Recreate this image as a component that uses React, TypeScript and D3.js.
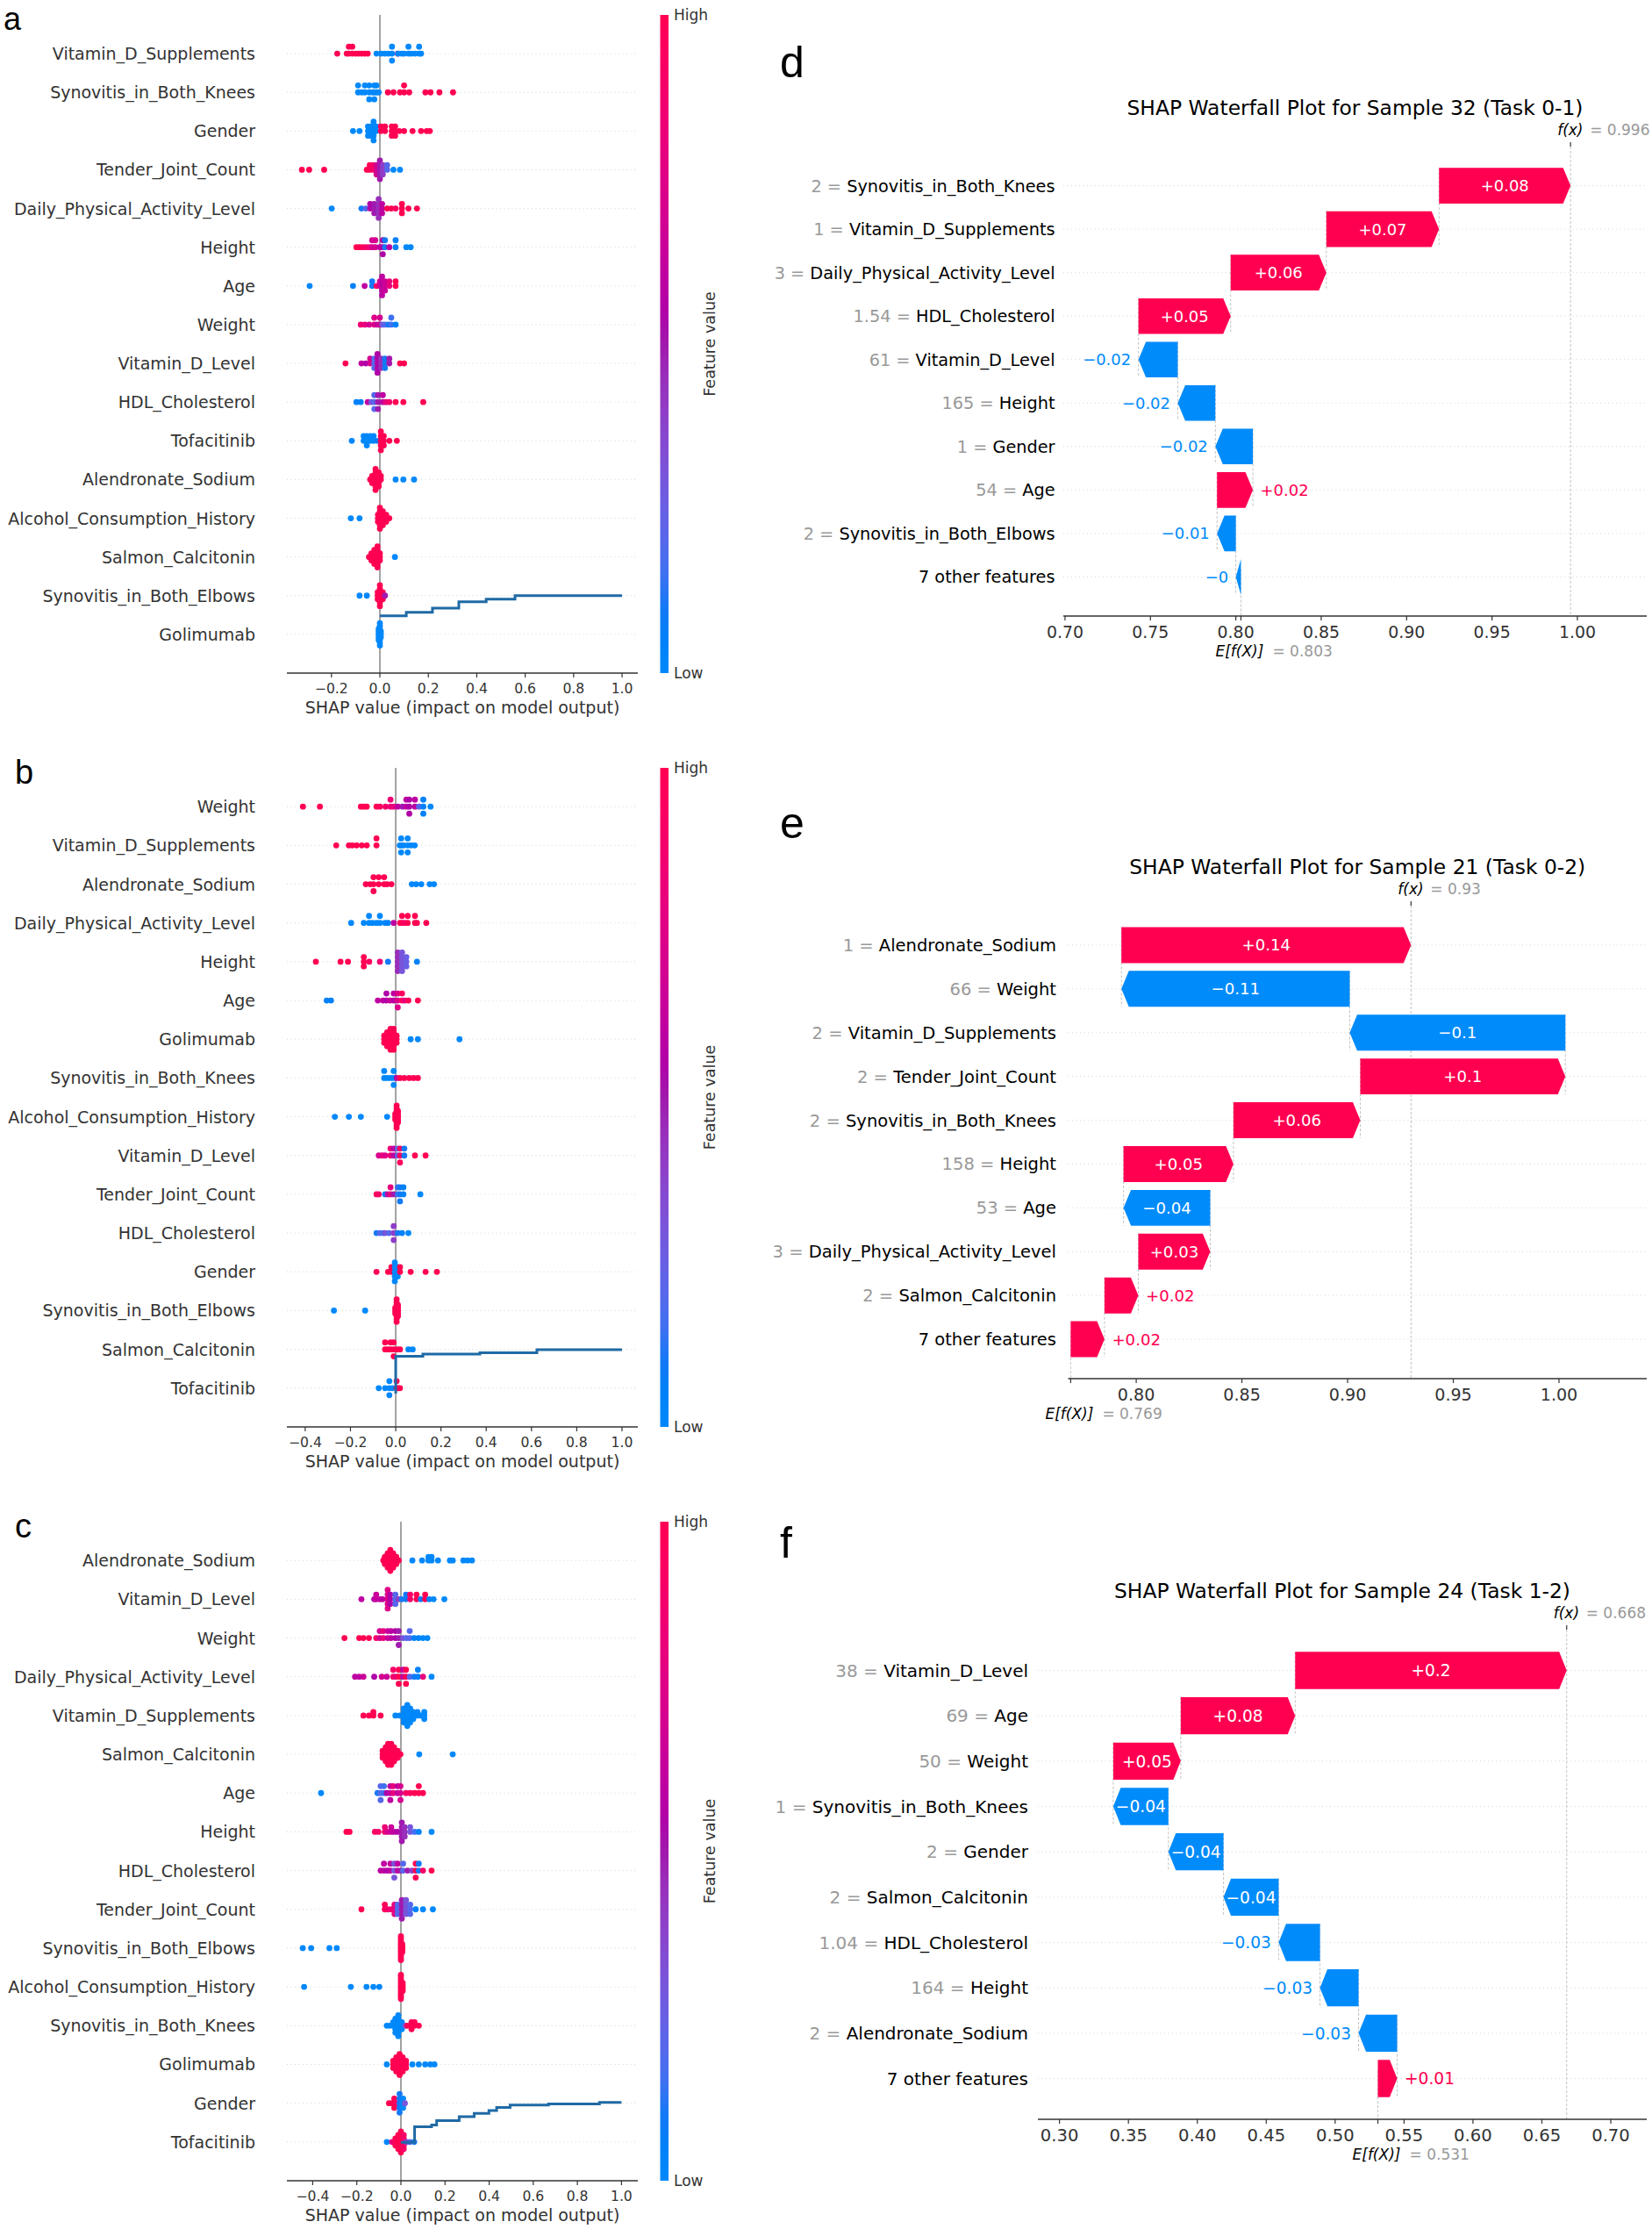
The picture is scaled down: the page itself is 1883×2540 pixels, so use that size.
import React from 'react';
import * as d3 from 'd3';

type Pt = [number, number, number?];

const W = 1883;
const H = 2540;
const FONT = "'DejaVu Sans', sans-serif";
const RED = '#ff0051';
const BLUE = '#008bfb';
const AXIS = '#333333';

// ---------- beeswarm panels (a, b, c) ----------
const featA = ['Vitamin_D_Supplements', 'Synovitis_in_Both_Knees', 'Gender', 'Tender_Joint_Count', 'Daily_Physical_Activity_Level', 'Height', 'Age', 'Weight', 'Vitamin_D_Level', 'HDL_Cholesterol', 'Tofacitinib', 'Alendronate_Sodium', 'Alcohol_Consumption_History', 'Salmon_Calcitonin', 'Synovitis_in_Both_Elbows', 'Golimumab'];
const featB = ['Weight', 'Vitamin_D_Supplements', 'Alendronate_Sodium', 'Daily_Physical_Activity_Level', 'Height', 'Age', 'Golimumab', 'Synovitis_in_Both_Knees', 'Alcohol_Consumption_History', 'Vitamin_D_Level', 'Tender_Joint_Count', 'HDL_Cholesterol', 'Gender', 'Synovitis_in_Both_Elbows', 'Salmon_Calcitonin', 'Tofacitinib'];
const featC = ['Alendronate_Sodium', 'Vitamin_D_Level', 'Weight', 'Daily_Physical_Activity_Level', 'Vitamin_D_Supplements', 'Salmon_Calcitonin', 'Age', 'Height', 'HDL_Cholesterol', 'Tender_Joint_Count', 'Synovitis_in_Both_Elbows', 'Alcohol_Consumption_History', 'Synovitis_in_Both_Knees', 'Golimumab', 'Gender', 'Tofacitinib'];

// [shap value, feature value 0..1, count]
const shapA: Pt[][] = [
  [[-0.176, 1], [-0.137, 1], [-0.128, 1, 2], [-0.114, 1, 2], [-0.1, 1], [-0.088, 1], [-0.075, 1], [-0.062, 1], [-0.05, 1], [0.074, 1],
   [-0.014, 0], [0.005, 0], [0.02, 0], [0.035, 0], [0.05, 0, 3], [0.075, 0], [0.09, 0], [0.1, 0], [0.118, 0, 2], [0.13, 0], [0.145, 0], [0.162, 0, 2], [0.17, 0]],
  [[-0.09, 0, 2], [-0.075, 0], [-0.062, 0, 2], [-0.044, 0, 3], [-0.03, 0], [-0.023, 0, 3], [-0.014, 0, 2], [-0.005, 0],
   [0.033, 1], [0.056, 1], [0.083, 1], [0.1, 1, 2], [0.121, 1], [0.188, 1], [0.209, 1], [0.246, 1], [0.302, 1]],
  [[-0.111, 0], [-0.084, 0], [-0.049, 0, 3], [-0.037, 0, 3], [-0.026, 0, 5], [-0.015, 0, 2],
   [0.004, 1, 2], [0.021, 1, 2], [0.049, 1, 3], [0.063, 1, 3], [0.08, 1], [0.1, 1], [0.135, 1], [0.17, 1], [0.193, 1], [0.206, 1]],
  [[-0.322, 1], [-0.292, 1], [-0.23, 1], [-0.054, 1], [-0.042, 1, 2], [-0.028, 0.9, 2], [-0.014, 0.7, 3], [0.0, 0.5, 5], [0.012, 0.4, 3], [0.03, 0.2, 2], [0.056, 0], [0.083, 0]],
  [[-0.199, 0], [-0.076, 0.1], [-0.058, 0.2], [-0.04, 0.55, 2], [-0.023, 0.5, 3], [-0.005, 0.45, 5], [0.009, 0.6, 3], [0.03, 1], [0.047, 1], [0.065, 0.95], [0.091, 1, 3], [0.118, 1], [0.153, 1]],
  [[-0.097, 1], [-0.084, 1], [-0.07, 0.95], [-0.056, 0.9], [-0.042, 0.85], [-0.032, 0.7, 2], [-0.019, 0.7, 2], [0.0, 0.6], [0.012, 0.55, 3], [0.021, 0.1, 2], [0.039, 0.6], [0.065, 0.05, 2], [0.109, 0], [0.127, 0]],
  [[-0.29, 0], [-0.111, 0.05], [-0.063, 0.6], [-0.032, 0.1, 2], [-0.014, 0.9], [0.0, 0.7, 2], [0.009, 0.6, 5], [0.021, 0.65, 3], [0.039, 0.8, 2], [0.065, 1, 2]],
  [[-0.079, 0.85], [-0.062, 0.8], [-0.044, 0.7], [-0.023, 0.75, 2], [-0.01, 0.6], [0.0, 0.7, 2], [0.01, 0.3], [0.021, 0.2], [0.035, 0.1], [0.047, 0.15, 2], [0.065, 0.05]],
  [[-0.142, 1], [-0.076, 0.6], [-0.058, 0.55], [-0.04, 0.7, 2], [-0.023, 0.2, 3], [-0.01, 0.55, 5], [0.005, 0.45, 3], [0.021, 0.1, 3], [0.039, 0.5, 2], [0.083, 1], [0.1, 1]],
  [[-0.097, 0.05], [-0.079, 0.05], [-0.05, 0.6], [-0.035, 0.3], [-0.023, 0.2, 3], [-0.008, 0.5, 3], [0.012, 0.6, 2], [0.025, 0.8], [0.039, 0.9], [0.065, 1], [0.097, 1], [0.179, 1]],
  [[-0.116, 0], [-0.067, 0, 2], [-0.054, 0, 3], [-0.04, 0, 2], [-0.026, 0, 2], [-0.01, 0.1], [0.004, 1, 5], [0.016, 1, 3], [0.039, 1], [0.07, 1]],
  [[-0.04, 1], [-0.032, 1, 3], [-0.018, 1, 7], [-0.005, 1, 5], [0.004, 1, 2], [0.065, 0], [0.097, 0], [0.141, 0]],
  [[-0.12, 0], [-0.084, 0], [-0.008, 1, 3], [0.0, 1, 7], [0.012, 1, 5], [0.026, 1, 3], [0.039, 1]],
  [[-0.045, 1], [-0.035, 1, 3], [-0.023, 1, 5], [-0.01, 1, 7], [0.0, 1, 3], [0.062, 0]],
  [[-0.084, 0], [-0.054, 0], [-0.009, 1, 3], [0.0, 1, 7], [0.012, 1, 3], [0.021, 0.5]],
  [[-0.005, 0, 5], [0.0, 0, 9], [0.004, 0, 3]],
];

const shapB: Pt[][] = [
  [[-0.41, 1], [-0.335, 1], [-0.154, 1], [-0.14, 1], [-0.128, 1], [-0.085, 1], [-0.07, 0.95], [-0.045, 0.9], [-0.023, 0.85, 2], [-0.009, 0.8], [0.009, 0.6], [0.03, 0.5], [0.047, 0.6, 2], [0.06, 0.55, 3], [0.085, 0.6, 2], [0.103, 0.2], [0.122, 0.05, 3], [0.154, 0]],
  [[-0.263, 1], [-0.207, 1], [-0.192, 1], [-0.173, 1], [-0.15, 1], [-0.128, 1], [-0.085, 1, 2], [0.018, 0], [0.024, 0, 3], [0.035, 0], [0.053, 0, 3], [0.068, 0], [0.084, 0]],
  [[-0.132, 1], [-0.113, 1], [-0.098, 1, 3], [-0.075, 1, 2], [-0.051, 1, 2], [-0.038, 1], [-0.019, 1], [0.071, 0], [0.09, 0], [0.113, 0], [0.15, 0], [0.169, 0]],
  [[-0.197, 0], [-0.141, 0], [-0.118, 0, 2], [-0.103, 0], [-0.085, 0], [-0.07, 0, 2], [-0.047, 0], [-0.034, 0.05], [-0.009, 0.6], [0.019, 1], [0.028, 1, 2], [0.04, 0.9], [0.053, 1, 2], [0.085, 1, 2], [0.094, 1], [0.135, 1]],
  [[-0.353, 1], [-0.244, 1], [-0.211, 1], [-0.141, 1, 3], [-0.117, 0.95], [-0.07, 0.85], [-0.034, 0.1], [0.009, 0.45, 5], [0.028, 0.3, 5], [0.047, 0.25, 3], [0.094, 0.05]],
  [[-0.305, 0.05], [-0.286, 0.05], [-0.079, 0.6], [-0.056, 0.6], [-0.041, 0.55, 2], [-0.025, 0.65], [-0.009, 0.6, 2], [0.009, 0.75, 3], [0.028, 0.95, 2], [0.04, 0.8], [0.056, 1], [0.098, 1]],
  [[-0.051, 1, 3], [-0.038, 1, 5], [-0.023, 1, 7], [-0.009, 1, 7], [0.004, 1, 3], [0.066, 0], [0.098, 0], [0.282, 0]],
  [[-0.051, 0, 2], [-0.038, 0], [-0.023, 0], [-0.009, 0, 3], [0.005, 0.6], [0.019, 1], [0.038, 1], [0.06, 1], [0.079, 1], [0.098, 1]],
  [[-0.269, 0], [-0.207, 0], [-0.154, 0], [-0.038, 0], [-0.002, 1, 3], [0.004, 1, 9], [0.01, 1, 5]],
  [[-0.075, 0.7], [-0.06, 0.8], [-0.047, 0.75], [-0.023, 0.85, 2], [-0.009, 0.6, 2], [0.009, 0.2, 2], [0.019, 0.95, 3], [0.038, 0.1, 2], [0.085, 1], [0.132, 1]],
  [[-0.085, 0.95], [-0.075, 0.9], [-0.047, 0.1], [-0.035, 0.6], [-0.023, 0.8, 2], [-0.009, 0.5], [0.009, 0.15, 2], [0.019, 0.1, 3], [0.034, 0.05, 2], [0.109, 0]],
  [[-0.085, 0.1], [-0.07, 0.2], [-0.055, 0.15], [-0.047, 0.3], [-0.03, 0.2], [-0.009, 0.4, 3], [0.009, 0.1], [0.028, 0.05], [0.056, 0]],
  [[-0.085, 1], [-0.034, 1], [-0.019, 1, 2], [-0.004, 0, 5], [0.009, 0, 3], [0.019, 1, 2], [0.066, 1], [0.132, 1], [0.182, 1]],
  [[-0.273, 0], [-0.135, 0], [-0.002, 1, 3], [0.004, 1, 9], [0.01, 1, 5]],
  [[-0.047, 1, 2], [-0.035, 1], [-0.023, 1, 2], [-0.009, 1, 3], [0.005, 1], [0.019, 1], [0.056, 0], [0.075, 0]],
  [[-0.075, 0], [-0.047, 0], [-0.028, 0, 3], [-0.015, 0], [0.004, 1, 2], [0.012, 1], [0.019, 1]],
];

const shapC: Pt[][] = [
  [[-0.08, 1], [-0.073, 1, 3], [-0.06, 1, 5], [-0.048, 1, 7], [-0.035, 1, 5], [-0.021, 1, 3], [-0.01, 1], [0.052, 0], [0.096, 0], [0.125, 0, 2], [0.139, 0, 2], [0.168, 0], [0.222, 0], [0.235, 0], [0.283, 0], [0.302, 0], [0.322, 0]],
  [[-0.179, 0.6], [-0.121, 0.55], [-0.112, 0.65, 2], [-0.096, 0.6], [-0.083, 0.6], [-0.06, 0.75, 5], [-0.048, 0.55, 3], [-0.025, 0.2, 3], [-0.01, 0.4], [0.004, 0.1], [0.023, 0.1, 2], [0.042, 0.9, 2], [0.071, 1, 2], [0.09, 0.1], [0.11, 1, 2], [0.129, 0.05], [0.148, 0], [0.197, 0]],
  [[-0.256, 1], [-0.189, 1], [-0.17, 1], [-0.145, 1], [-0.112, 0.9], [-0.096, 0.7, 2], [-0.08, 0.8, 2], [-0.06, 0.65, 2], [-0.045, 0.6, 2], [-0.025, 0.55, 2], [-0.01, 0.5, 3], [0.01, 0.3], [0.025, 0.2], [0.04, 0.2, 2], [0.06, 0.05], [0.08, 0.05], [0.1, 0], [0.12, 0]],
  [[-0.208, 0.6], [-0.189, 0.6], [-0.17, 0.65], [-0.121, 0.55], [-0.087, 0.7], [-0.064, 0.65], [-0.035, 0.9, 2], [-0.022, 0.8], [-0.01, 1, 3], [0.01, 0.6, 2], [0.023, 1, 3], [0.04, 0.2], [0.06, 0.1], [0.077, 0.05, 2], [0.1, 0.8], [0.139, 0]],
  [[-0.17, 1], [-0.145, 1], [-0.125, 1, 2], [-0.092, 1], [-0.025, 0], [-0.005, 0], [0.013, 0, 5], [0.029, 0, 7], [0.042, 0, 5], [0.056, 0, 3], [0.075, 0, 2], [0.091, 0], [0.106, 0, 3]],
  [[-0.083, 1, 3], [-0.069, 1, 5], [-0.058, 1, 7], [-0.044, 1, 7], [-0.031, 1, 5], [-0.015, 1, 3], [-0.002, 1], [0.083, 0], [0.235, 0]],
  [[-0.362, 0], [-0.106, 0.1], [-0.092, 0.2, 3], [-0.077, 0.15, 2], [-0.064, 0.55], [-0.048, 0.6, 3], [-0.035, 0.8, 2], [-0.015, 0.6, 2], [-0.002, 0.7, 3], [0.023, 0.9], [0.042, 0.95], [0.062, 1], [0.081, 1, 2], [0.1, 1]],
  [[-0.247, 1], [-0.233, 1], [-0.118, 0.95], [-0.102, 0.9], [-0.073, 0.85, 2], [-0.06, 0.7], [-0.044, 0.65, 2], [-0.03, 0.6], [-0.015, 0.55], [0.004, 0.5, 5], [0.017, 0.45, 3], [0.042, 0.3, 2], [0.062, 0.15], [0.081, 0.05], [0.139, 0]],
  [[-0.092, 0.6], [-0.077, 0.6, 2], [-0.062, 0.55], [-0.048, 0.6, 2], [-0.03, 0.3, 3], [-0.015, 0.6, 2], [0.0, 0.5], [0.01, 0.2, 2], [0.03, 0.5], [0.05, 0.4], [0.067, 1, 3], [0.081, 0.1, 2], [0.1, 0.9], [0.139, 1]],
  [[-0.179, 1], [-0.073, 0.95, 2], [-0.06, 0.9], [-0.044, 0.85], [-0.029, 0.8, 3], [-0.015, 0.2, 3], [0.004, 0.5, 5], [0.023, 0.3, 4], [0.042, 0.2, 3], [0.067, 0.05], [0.1, 0], [0.145, 0]],
  [[-0.445, 0], [-0.407, 0], [-0.324, 0], [-0.291, 0], [0.0, 1, 13], [0.006, 1, 5]],
  [[-0.439, 0], [-0.227, 0], [-0.156, 0], [-0.125, 0], [-0.098, 0], [0.0, 1, 13], [0.008, 1, 5]],
  [[-0.064, 0], [-0.05, 0], [-0.035, 0, 2], [-0.025, 0, 5], [-0.012, 0, 7], [0.004, 0, 3], [0.02, 0.3], [0.029, 1], [0.048, 1, 3], [0.062, 1, 2], [0.081, 1]],
  [[-0.064, 0], [-0.035, 1, 3], [-0.021, 1, 5], [-0.006, 1, 7], [0.008, 1, 5], [0.023, 1, 3], [0.052, 0], [0.081, 0], [0.11, 0], [0.133, 0], [0.152, 0]],
  [[-0.054, 1], [-0.04, 1], [-0.03, 1, 3], [-0.018, 0.9], [-0.006, 0.1, 5], [0.01, 0, 3], [0.018, 0.3]],
  [[-0.064, 0], [-0.04, 0.8], [-0.025, 1, 3], [-0.012, 1, 5], [0.0, 1, 7], [0.013, 0.9, 5], [0.025, 0.4], [0.04, 0.2], [0.06, 0.1]],
];

// stray step curve drawn in each beeswarm: [x value, row position (0 = top row)]
const stepA: [number, number][] = [[0, 14.52], [0.109, 14.43], [0.217, 14.32], [0.326, 14.16], [0.439, 14.09], [0.558, 14.0], [1.0, 14.0]];
const stepB: [number, number][] = [[0, 15.14], [0, 14.18], [0.12, 14.12], [0.372, 14.09], [0.624, 14.01], [1.0, 14.01]];
const stepC: [number, number][] = [[0, 15.01], [0.062, 14.61], [0.139, 14.56], [0.162, 14.45], [0.264, 14.35], [0.332, 14.26], [0.399, 14.19], [0.434, 14.11], [0.495, 14.05], [0.669, 14.02], [0.9, 13.98], [1.0, 13.98]];

const ticksA = [-0.2, 0, 0.2, 0.4, 0.6, 0.8, 1.0];
const ticksBC = [-0.4, -0.2, 0, 0.2, 0.4, 0.6, 0.8, 1.0];

// ---------- waterfall panels (d, e, f) ----------
const namesD = ['Synovitis_in_Both_Knees', 'Vitamin_D_Supplements', 'Daily_Physical_Activity_Level', 'HDL_Cholesterol', 'Vitamin_D_Level', 'Height', 'Gender', 'Age', 'Synovitis_in_Both_Elbows', '7 other features'];
const valsD = ['2', '1', '3', '1.54', '61', '165', '1', '54', '2', ''];
const shapD = [0.077, 0.066, 0.056, 0.054, -0.023, -0.022, -0.022, 0.021, -0.011, -0.003];
const baseD = 0.803;
const ticksD = [0.7, 0.75, 0.8, 0.85, 0.9, 0.95, 1.0];

const namesE = ['Alendronate_Sodium', 'Weight', 'Vitamin_D_Supplements', 'Tender_Joint_Count', 'Synovitis_in_Both_Knees', 'Height', 'Age', 'Daily_Physical_Activity_Level', 'Salmon_Calcitonin', '7 other features'];
const valsE = ['1', '66', '2', '2', '2', '158', '53', '3', '2', ''];
const shapE = [0.137, -0.108, -0.102, 0.097, 0.06, 0.052, -0.041, 0.034, 0.016, 0.016];
const baseE = 0.769;
const ticksE = [0.8, 0.85, 0.9, 0.95, 1.0];

const namesF = ['Vitamin_D_Level', 'Age', 'Weight', 'Synovitis_in_Both_Knees', 'Gender', 'Salmon_Calcitonin', 'HDL_Cholesterol', 'Height', 'Alendronate_Sodium', '7 other features'];
const valsF = ['38', '69', '50', '1', '2', '2', '1.04', '164', '2', ''];
const shapF = [0.197, 0.083, 0.049, -0.04, -0.04, -0.04, -0.03, -0.028, -0.028, 0.014];
const baseF = 0.531;
const ticksF = [0.3, 0.35, 0.4, 0.45, 0.5, 0.55, 0.6, 0.65, 0.7];

// shap red_blue colormap, interpolated in LCh like shap does
function shapColor(t: number) {
  const l = t < 0.5 ? 54 + (40 - 54) * (t / 0.5) : 40 + (54 - 40) * ((t - 0.5) / 0.5);
  const c = 70 + 20 * t;
  const h = 266.93 + (380.32 - 266.93) * t;
  return d3.hcl(h % 360, c, l).formatHex();
}

const minus = (s: string) => s.replace('-', '\u2212');

function fmtVal(v: number, digits: number, sign: boolean) {
  let s = (v < 0 ? '-' : sign ? '+' : '') + Math.abs(v).toFixed(digits);
  s = s.replace(/\.?0+$/, '');
  return minus(s);
}

function numWidth(s: string, fs: number) {
  let w = 0;
  for (const ch of s) w += ch === '.' ? 0.318 : ch === '+' || ch === '\u2212' ? 0.838 : 0.636;
  return w * fs;
}

// same layering as shap's beeswarm
function swarm(vals: number[]) {
  const n = vals.length;
  const mn = d3.min(vals)!;
  const mx = d3.max(vals)!;
  const quant = vals.map(v => Math.round((100 * (v - mn)) / (mx - mn + 1e-8)));
  const inds = d3.range(n).sort((a, b) => quant[a] - quant[b] || a - b);
  const ys = new Array(n).fill(0);
  let layer = 0;
  let last = -1;
  for (const i of inds) {
    if (quant[i] !== last) layer = 0;
    ys[i] = Math.ceil(layer / 2) * ((layer % 2) * 2 - 1);
    layer++;
    last = quant[i];
  }
  const m = d3.max(ys)! + 1;
  return ys.map(y => y * 0.9 * (0.4 / m));
}

function Beeswarm({ top, bottom, domain, ticks, features, rows, step }: {
  top: number; bottom: number; domain: [number, number]; ticks: number[];
  features: string[]; rows: Pt[][]; step: [number, number][];
}) {
  const x0 = 327, x1 = 727;
  const x = d3.scaleLinear().domain(domain).range([x0, x1]);
  const y = d3.scaleLinear().domain([-1, features.length]).range([top, bottom]);
  const sp = y(1) - y(0);
  const line = d3.line<[number, number]>().x(d => x(d[0])).y(d => y(d[1])).curve(d3.curveStepAfter);

  const dots = rows.flatMap((row, k) => {
    const pts = row.flatMap(([v, fv, n = 1]) => d3.range(n).map(() => [v, fv]));
    const off = swarm(pts.map(p => p[0]));
    return pts.map((p, j) => ({ cx: x(p[0]), cy: y(k) - off[j] * sp, c: shapColor(p[1]) }));
  });

  return (
    <g>
      {features.map((f, k) => (
        <g key={f}>
          <line x1={x0} x2={x1} y1={y(k)} y2={y(k)} stroke="#cccccc" strokeWidth={0.8} strokeDasharray="1 3.5" />
          <text x={291} y={y(k) + 7} textAnchor="end" fontSize={19} fill={AXIS}>{f}</text>
        </g>
      ))}
      <line x1={x(0)} x2={x(0)} y1={top} y2={bottom} stroke="#999999" strokeWidth={1.8} />
      {dots.map((d, i) => <circle key={i} cx={d.cx} cy={d.cy} r={3.4} fill={d.c} />)}
      <path d={line(step) || ''} fill="none" stroke="#1f6aa5" strokeWidth={3} />
      <line x1={x0} x2={x1} y1={bottom} y2={bottom} stroke={AXIS} strokeWidth={1.6} />
      {ticks.map(t => (
        <g key={t}>
          <line x1={x(t)} x2={x(t)} y1={bottom} y2={bottom + 5} stroke={AXIS} strokeWidth={1.2} />
          <text x={x(t)} y={bottom + 23} textAnchor="middle" fontSize={15.6} fill={AXIS}>{minus(t.toFixed(1))}</text>
        </g>
      ))}
      <text x={(x0 + x1) / 2} y={bottom + 46} textAnchor="middle" fontSize={19} fill={AXIS}>SHAP value (impact on model output)</text>
      <rect x={752.5} y={top} width={9.5} height={bottom - top} fill="url(#shapcb)" />
      <text x={768} y={top + 6} fontSize={17} fill={AXIS}>High</text>
      <text x={768} y={bottom + 6} fontSize={17} fill={AXIS}>Low</text>
      <text transform={`translate(${815},${(top + bottom) / 2}) rotate(-90)`} textAnchor="middle" fontSize={17.5} fill={AXIS}>Feature value</text>
    </g>
  );
}

function Waterfall({ top, bottom, x0, x1, domain, ticks, names, vals, shap, base, title, labelRight, fs }: {
  top: number; bottom: number; x0: number; x1: number; domain: [number, number]; ticks: number[];
  names: string[]; vals: string[]; shap: number[]; base: number; title: string; labelRight: number; fs: number;
}) {
  const n = names.length;
  const x = d3.scaleLinear().domain(domain).range([x0, x1]);
  const y = d3.scaleLinear().domain([-0.9, n - 1 + 0.9]).range([top, bottom]);
  const sp = y(1) - y(0);
  const bh = sp * 0.82;
  const fx = base + d3.sum(shap);
  let loc = fx;
  const bars = shap.map((v, i) => {
    const end = loc;
    loc -= v;
    return { i, v, start: loc, end };
  });
  const bfs = fs * 0.93;

  return (
    <g>
      {names.map((nm, i) => (
        <line key={'g' + i} x1={x0} x2={x1} y1={y(i)} y2={y(i)} stroke="#cccccc" strokeWidth={0.8} strokeDasharray="1 3.5" />
      ))}
      <line x1={x(fx)} x2={x(fx)} y1={top} y2={bottom} stroke="#bbbbbb" strokeWidth={0.9} strokeDasharray="3 2" />
      <line x1={x(base)} x2={x(base)} y1={bottom - (bottom - top) / n} y2={bottom} stroke="#bbbbbb" strokeWidth={0.9} strokeDasharray="3 2" />
      {bars.slice(0, n - 1).map(b => (
        <line key={'c' + b.i} x1={x(b.start)} x2={x(b.start)} y1={y(b.i) - bh / 2} y2={y(b.i + 1) + bh / 2} stroke="#bbbbbb" strokeWidth={0.9} strokeDasharray="3 2" />
      ))}
      {bars.map(b => {
        const xs = x(b.start);
        const xe = x(b.end);
        const dir = xe >= xs ? 1 : -1;
        const len = Math.abs(xe - xs);
        const hl = Math.min(len, 8.5);
        const yc = y(b.i);
        const yt = yc - bh / 2;
        const yb = yc + bh / 2;
        const pts = [[xs, yt], [xe - dir * hl, yt], [xe, yc], [xe - dir * hl, yb], [xs, yb]];
        const col = b.v >= 0 ? RED : BLUE;
        const lbl = fmtVal(b.v, 2, true);
        const inside = numWidth(lbl, bfs) <= len;
        return (
          <g key={'b' + b.i}>
            <polygon points={pts.map(p => p.join(',')).join(' ')} fill={col} />
            {inside ? (
              <text x={(xs + xe) / 2} y={yc + bfs * 0.36} textAnchor="middle" fontSize={bfs} fill="#fff">{lbl}</text>
            ) : (
              <text x={xe + dir * 8.5} y={yc + bfs * 0.36} textAnchor={dir > 0 ? 'start' : 'end'} fontSize={bfs} fill={col}>{lbl}</text>
            )}
          </g>
        );
      })}
      {names.map((nm, i) => (
        <text key={'l' + i} x={labelRight} y={y(i) + fs * 0.36} textAnchor="end" fontSize={fs}>
          {vals[i] !== '' && <tspan fill="#999999">{vals[i] + ' = '}</tspan>}
          <tspan fill="#000">{nm}</tspan>
        </text>
      ))}
      <line x1={x0} x2={x1} y1={bottom} y2={bottom} stroke={AXIS} strokeWidth={1.6} />
      {ticks.map(t => (
        <g key={t}>
          <line x1={x(t)} x2={x(t)} y1={bottom} y2={bottom + 5} stroke={AXIS} strokeWidth={1.2} />
          <text x={x(t)} y={bottom + 25} textAnchor="middle" fontSize={fs * 0.98} fill={AXIS}>{t.toFixed(2)}</text>
        </g>
      ))}
      <line x1={x(base)} x2={x(base)} y1={bottom} y2={bottom + 5} stroke={AXIS} strokeWidth={1.2} />
      <text x={x(base) - 29} y={bottom + 46} fontSize={17} fontStyle="italic" fill="#000">E[f(X)]</text>
      <text x={x(base) + 36} y={bottom + 46} fontSize={17} fill="#999999">{'= ' + fmtVal(base, 3, false)}</text>
      <line x1={x(fx)} x2={x(fx)} y1={top} y2={top - 5} stroke={AXIS} strokeWidth={1.2} />
      <text x={x(fx) - 15} y={top - 13} fontSize={17} fontStyle="italic" fill="#000">f(x)</text>
      <text x={x(fx) + 22} y={top - 13} fontSize={17} fill="#999999">{'= ' + fmtVal(fx, 3, false)}</text>
      <text x={(x0 + x1) / 2} y={top - 36} textAnchor="middle" fontSize={23.4} fill="#000">{title}</text>
    </g>
  );
}

export default function App() {
  const stops = d3.range(0, 1.0001, 0.05);
  const letter = { fontFamily: "'Liberation Sans', Arial, sans-serif", fill: '#000' };
  return (
    <div style={{ position: 'absolute', left: 0, top: 0, background: '#fff' }}>
      <svg width={W} height={H} viewBox={`0 0 ${W} ${H}`} style={{ display: 'block', fontFamily: FONT }}>
        <defs>
          <linearGradient id="shapcb" x1="0" y1="1" x2="0" y2="0">
            {stops.map(t => <stop key={t} offset={t} stopColor={shapColor(t)} />)}
          </linearGradient>
        </defs>
        <rect width={W} height={H} fill="#fff" />

        <Beeswarm top={17} bottom={767} domain={[-0.384, 1.065]} ticks={ticksA} features={featA} rows={shapA} step={stepA} />
        <Beeswarm top={875} bottom={1626} domain={[-0.481, 1.07]} ticks={ticksBC} features={featB} rows={shapB} step={stepB} />
        <Beeswarm top={1734} bottom={2485} domain={[-0.517, 1.074]} ticks={ticksBC} features={featC} rows={shapC} step={stepC} />

        <Waterfall top={167} bottom={702} x0={1212} x1={1877} domain={[0.699, 1.0406]} ticks={ticksD}
          names={namesD} vals={valsD} shap={shapD} base={baseD} title="SHAP Waterfall Plot for Sample 32 (Task 0-1)" labelRight={1202.5} fs={19.3} />
        <Waterfall top={1032} bottom={1571} x0={1217.5} x1={1877} domain={[0.7678, 1.0415]} ticks={ticksE}
          names={namesE} vals={valsE} shap={shapE} base={baseE} title="SHAP Waterfall Plot for Sample 21 (Task 0-2)" labelRight={1204} fs={19.5} />
        <Waterfall top={1857} bottom={2415} x0={1183} x1={1877} domain={[0.2843, 0.7261]} ticks={ticksF}
          names={namesF} vals={valsF} shap={shapF} base={baseF} title="SHAP Waterfall Plot for Sample 24 (Task 1-2)" labelRight={1172} fs={20} />

        <text x={4} y={34} fontSize={36} {...letter}>a</text>
        <text x={17} y={893} fontSize={38} {...letter}>b</text>
        <text x={17} y={1752} fontSize={38} {...letter}>c</text>
        <text x={889} y={88} fontSize={50} {...letter}>d</text>
        <text x={889} y={955} fontSize={50} {...letter}>e</text>
        <text x={889} y={1775} fontSize={50} {...letter}>f</text>
      </svg>
    </div>
  );
}
